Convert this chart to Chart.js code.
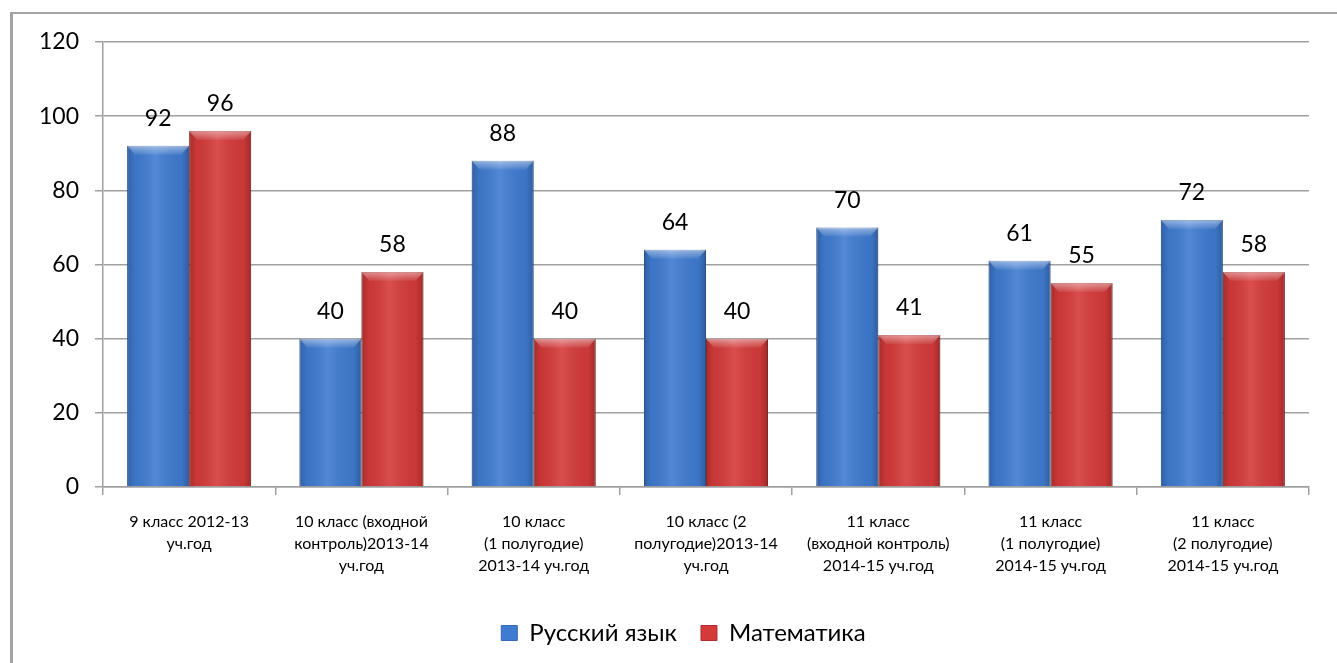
<!DOCTYPE html>
<html>
<head>
<meta charset="utf-8">
<script src="https://cdn.jsdelivr.net/npm/chart.js@4.4.1/dist/chart.umd.min.js"></script>
<style>
    html, body { margin: 0; padding: 0; background: #fff; overflow: hidden; }
    #wrap { position: relative; width: 1337px; height: 663px; }
    #frame {
        position: absolute; left: 10px; top: 12px; width: 1400px; height: 700px;
        border-top: 2px solid #a3a3a3; border-left: 3px solid #a3a3a3; pointer-events: none;
    }
</style>
</head>
<body>
<div id="wrap">
    <canvas id="scoreChart" width="1337" height="663"></canvas>
    <div id="frame"></div>
</div>
<script>
// Categories (multi-line labels as in the original)
const categories = [
    ['9 класс 2012-13', 'уч.год'],
    ['10 класс (входной', 'контроль)2013-14', 'уч.год'],
    ['10 класс', '(1 полугодие)', '2013-14 уч.год'],
    ['10 класс (2', 'полугодие)2013-14', 'уч.год'],
    ['11 класс', '(входной контроль)', '2014-15 уч.год'],
    ['11 класс', '(1 полугодие)', '2014-15 уч.год'],
    ['11 класс', '(2 полугодие)', '2014-15 уч.год']
];
const russianValues = [92, 40, 88, 64, 70, 61, 72];
const mathValues = [96, 58, 40, 40, 41, 55, 58];
const seriesNames = ['Русский язык', 'Математика'];
const yTickValues = [0, 20, 40, 60, 80, 100, 120];

const FONT = 'Lato, "Open Sans", sans-serif';
const GRID = '#a0a0a0';

// Glossy look on top of each bar (light middle, darker edges, bevelled top)
const shinePlugin = {
    id: 'shine',
    afterDatasetsDraw(chart) {
        const ctx = chart.ctx;
        chart.data.datasets.forEach(function(ds, i) {
            chart.getDatasetMeta(i).data.forEach(function(bar) {
                const p = bar.getProps(['x', 'y', 'base', 'width'], true);
                const left = p.x - p.width / 2;
                const h = p.base - p.y;
                ctx.save();
                const g = ctx.createLinearGradient(left, 0, left + p.width, 0);
                g.addColorStop(0, 'rgba(0,0,0,0.22)');
                g.addColorStop(0.12, 'rgba(0,0,0,0.05)');
                g.addColorStop(0.45, 'rgba(255,255,255,0.10)');
                g.addColorStop(0.88, 'rgba(0,0,0,0.05)');
                g.addColorStop(1, 'rgba(0,0,0,0.25)');
                ctx.fillStyle = g;
                ctx.fillRect(left, p.y, p.width, h);
                // bevel on top
                const bevel = Math.min(9, h);
                const t = ctx.createLinearGradient(0, p.y, 0, p.y + bevel);
                t.addColorStop(0, 'rgba(255,255,255,0.45)');
                t.addColorStop(1, 'rgba(255,255,255,0.05)');
                ctx.fillStyle = t;
                ctx.beginPath();
                ctx.moveTo(left, p.y);
                ctx.lineTo(left + p.width, p.y);
                ctx.lineTo(left + p.width - 8, p.y + bevel);
                ctx.lineTo(left + 8, p.y + bevel);
                ctx.closePath();
                ctx.fill();
                ctx.restore();
            });
        });
    }
};

// Value labels above bars
const valueLabels = {
    id: 'valueLabels',
    afterDatasetsDraw(chart) {
        const ctx = chart.ctx;
        ctx.save();
        ctx.font = '23px ' + FONT;
        ctx.fillStyle = '#000';
        ctx.textAlign = 'center';
        ctx.textBaseline = 'middle';
        chart.data.datasets.forEach(function(ds, i) {
            chart.getDatasetMeta(i).data.forEach(function(bar, j) {
                ctx.fillText(ds.data[j], bar.x, bar.y - 27);
            });
        });
        ctx.restore();
    }
};

// legend in the original sits a little right of centre
const legendShift = {
    id: 'legendShift',
    afterLayout(chart) {
        chart.legend.left += 29;
        chart.legend.right += 29;
    }
};

new Chart(document.getElementById('scoreChart'), {
    type: 'bar',
    data: {
        labels: categories,
        datasets: [{
            label: seriesNames[0],
            data: russianValues,
            backgroundColor: '#3f7bd0',
            borderColor: '#3568b5',
            borderWidth: 1,
            categoryPercentage: 0.72,
            barPercentage: 1
        }, {
            label: seriesNames[1],
            data: mathValues,
            backgroundColor: '#d43a3a',
            borderColor: '#b02c2c',
            borderWidth: 1,
            categoryPercentage: 0.72,
            barPercentage: 1
        }]
    },
    options: {
        responsive: false,
        animation: false,
        layout: { padding: { top: 42, right: 28, bottom: 8, left: 0 } },
        plugins: {
            tooltip: { enabled: false },
            legend: {
                position: 'bottom',
                labels: {
                    font: { family: FONT, size: 24 },
                    color: '#000',
                    boxWidth: 16,
                    boxHeight: 15,
                    padding: 24
                }
            }
        },
        scales: {
            x: {
                afterFit(scale) { scale.height = 110; },
                grid: { drawOnChartArea: false, drawTicks: true, tickLength: 8, color: GRID, lineWidth: 1.5 },
                border: { color: GRID, width: 1.5 },
                ticks: {
                    font: { family: FONT, size: 16, lineHeight: '22px' },
                    color: '#000',
                    padding: 16,
                    maxRotation: 0,
                    autoSkip: false
                }
            },
            y: {
                min: 0,
                max: 120,
                afterBuildTicks(scale) {
                    scale.ticks = yTickValues.map(v => ({ value: v }));
                },
                afterFit(scale) { scale.width = 103; },
                grid: { color: GRID, lineWidth: 1.5, tickLength: 8 },
                border: { color: GRID, width: 1.5 },
                ticks: {
                    font: { family: FONT, size: 23 },
                    color: '#000',
                    padding: 16
                }
            }
        }
    },
    plugins: [shinePlugin, valueLabels, legendShift]
});
</script>
</body>
</html>
